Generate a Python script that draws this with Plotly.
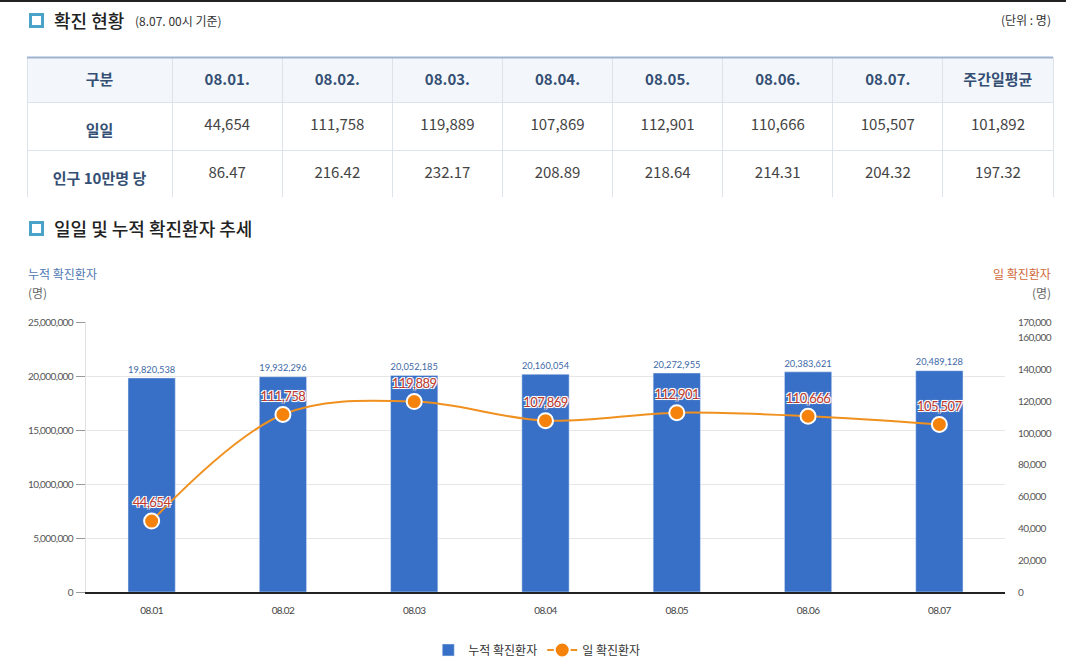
import plotly.graph_objects as go

# ---------------- data ----------------
dates = ["08.01", "08.02", "08.03", "08.04", "08.05", "08.06", "08.07"]
cumulative = [19820538, 19932296, 20052185, 20160054, 20272955, 20383621, 20489128]
daily = [44654, 111758, 119889, 107869, 112901, 110666, 105507]
per100k = [86.47, 216.42, 232.17, 208.89, 218.64, 214.31, 204.32]
avg_daily = 101892
avg_per100k = 197.32
row_labels = ["일일", "인구 10만명 당"]
left_ticks = [0, 5000000, 10000000, 15000000, 20000000, 25000000]
right_ticks = [0, 20000, 40000, 60000, 80000, 100000, 120000, 140000, 160000, 170000]

W, H = 1080, 671
KR = "Noto Sans CJK KR"
NUM = "Lato"


def px(x):
    return x / W


def py(y):
    return 1 - y / H


HEAD_C = "#344f73"
GRID_C = "#dde3eb"

# ---------------- table ----------------
header_vals = ["<b>구분</b>"] + [f"<b>{d}.</b>" for d in dates] + ["<b>주간일평균</b>"]
cols = [[f"<b>{r}</b>" for r in row_labels]]
for d, p in zip(daily, per100k):
    cols.append([f"{d:,}", f"{p:.2f}"])
cols.append([f"{avg_daily:,}", f"{avg_per100k:.2f}"])
font_colors = [[HEAD_C] * 2] + [["#444444"] * 2] * (len(cols) - 1)
col_w = [145] + [110] * 8
n_cols = len(col_w)

# grid (cells and borders)
table_grid = go.Table(
    domain=dict(x=[px(27), px(1053)], y=[py(198), py(57)]),
    columnwidth=col_w,
    header=dict(values=[""] * n_cols, fill_color="#f3f7fc", line_color=GRID_C,
                line_width=1, height=45, font=dict(family=KR, size=15)),
    cells=dict(values=[["", ""]] * n_cols, fill_color="white", line_color=GRID_C,
               line_width=1, height=48, font=dict(family=KR, size=15)),
)
# text layer, placed so each line sits in the middle of its cell
table_text = go.Table(
    domain=dict(x=[px(27), px(1053)], y=[py(198), py(60)]),
    columnwidth=col_w,
    header=dict(values=header_vals, fill_color="rgba(0,0,0,0)", line_color="rgba(0,0,0,0)",
                line_width=0, align="center", height=51,
                font=dict(family=KR, size=15, color=HEAD_C)),
    cells=dict(values=cols, fill_color="rgba(0,0,0,0)", line_color="rgba(0,0,0,0)",
               line_width=0, align="center", height=48,
               font=dict(family=KR, size=15, color=font_colors)),
)

# ---------------- chart ----------------
bars = go.Bar(
    x=dates, y=cumulative, name="누적 확진환자", marker_color="#3870c8",
    width=0.36, texttemplate="%{y:,}", textposition="outside",
    textfont=dict(family=NUM, size=12, color="#3c68a6"), cliponaxis=False,
    yaxis="y",
)
line = go.Scatter(
    x=dates, y=daily, name="일 확진환자", mode="lines+markers+text",
    line=dict(color="#f0901e", width=2, shape="spline", smoothing=1),
    marker=dict(size=15, color="#f5820a", line=dict(color="white", width=2)),
    texttemplate="%{y:,}", textposition="top center",
    textfont=dict(family=NUM, size=13, color="#c0392b",
                  shadow="1px 1px 0 #fff, -1px -1px 0 #fff, 1px -1px 0 #fff, -1px 1px 0 #fff, 0 0 3px #bbb"),
    cliponaxis=False, yaxis="y2",
)

fig = go.Figure([table_grid, table_text, bars, line])

fig.update_layout(
    width=W, height=H, margin=dict(l=0, r=0, t=0, b=0, autoexpand=False),
    paper_bgcolor="white", plot_bgcolor="white",
    font=dict(family=KR, color="#333"),
    showlegend=True,
    legend=dict(orientation="h", x=0.497, xanchor="center", y=py(650), yanchor="middle",
                font=dict(family=KR, size=12, color="#333"), itemwidth=30,
                bgcolor="rgba(0,0,0,0)"),
    xaxis=dict(domain=[px(86), px(1005)], type="category", showline=True,
               linecolor="#222", linewidth=2, showgrid=False, ticks="",
               tickfont=dict(family=NUM, size=10, color="#444"), ticklabelstandoff=8,
               automargin=False),
    yaxis=dict(domain=[py(592), py(322)], range=[0, 25000000], tickvals=left_ticks,
               tickformat=",", showgrid=True, gridcolor="#e6e6e6", gridwidth=1,
               showline=True, linecolor="#e0e0e0", linewidth=1, zeroline=False,
               ticks="outside", ticklen=9, tickcolor="#999", tickwidth=1,
               tickfont=dict(family=NUM, size=10, color="#555"), ticklabelstandoff=1,
               automargin=False),
    yaxis2=dict(overlaying="y", side="right", range=[0, 170000], tickvals=right_ticks,
                tickformat=",", showgrid=False, showline=False, zeroline=False,
                ticks="", tickfont=dict(family=NUM, size=10, color="#555"),
                ticklabelstandoff=12, automargin=False),
)

shapes = [
    dict(type="line", xref="paper", yref="paper", x0=0, x1=px(1066), y0=py(1), y1=py(1),
         line=dict(color="#222", width=2)),
    dict(type="line", xref="paper", yref="paper", x0=px(27), x1=px(1053), y0=py(57.5), y1=py(57.5),
         line=dict(color="#9fb4cf", width=2)),
]
for cy in (20.5, 228.5):
    shapes.append(dict(type="rect", xref="paper", yref="paper",
                       x0=px(30.5), x1=px(42.5), y0=py(cy - 6), y1=py(cy + 6),
                       fillcolor="white", line=dict(color="#4aa2c8", width=3)))
fig.update_layout(shapes=shapes)

ann = [
    dict(text="확진 현황", x=px(52), y=py(20), xanchor="left", yanchor="middle",
         font=dict(family=KR, size=18, color="#222", weight=500)),
    dict(text="(8.07. 00시 기준)", x=px(133), y=py(21), xanchor="left", yanchor="middle",
         font=dict(family=KR, size=12, color="#333")),
    dict(text="(단위 : 명)", x=px(1053), y=py(20), xanchor="right", yanchor="middle",
         font=dict(family=KR, size=12, color="#333")),
    dict(text="일일 및 누적 확진환자 추세", x=px(52), y=py(228), xanchor="left", yanchor="middle",
         font=dict(family=KR, size=18, color="#222", weight=500)),
    dict(text="누적 확진환자", x=px(26), y=py(274), xanchor="left", yanchor="middle",
         font=dict(family=KR, size=12, color="#4f78b4")),
    dict(text="(명)", x=px(26), y=py(292), xanchor="left", yanchor="middle",
         font=dict(family=KR, size=12, color="#666")),
    dict(text="일 확진환자", x=px(1053), y=py(274), xanchor="right", yanchor="middle",
         font=dict(family=KR, size=12, color="#d0683a")),
    dict(text="(명)", x=px(1053), y=py(292), xanchor="right", yanchor="middle",
         font=dict(family=KR, size=12, color="#666")),
]
for a in ann:
    a.update(xref="paper", yref="paper", showarrow=False)
fig.update_layout(annotations=ann)

post = """
document.body.style.margin='0';
var st=document.createElement('style');
st.innerHTML='.xtick text,.ytick text,.y2tick text{letter-spacing:-0.6px} .textpoint text{letter-spacing:-0.5px}';
document.head.appendChild(st);
"""
fig.write_html("out.html", post_script=post, config={"displayModeBar": False})
